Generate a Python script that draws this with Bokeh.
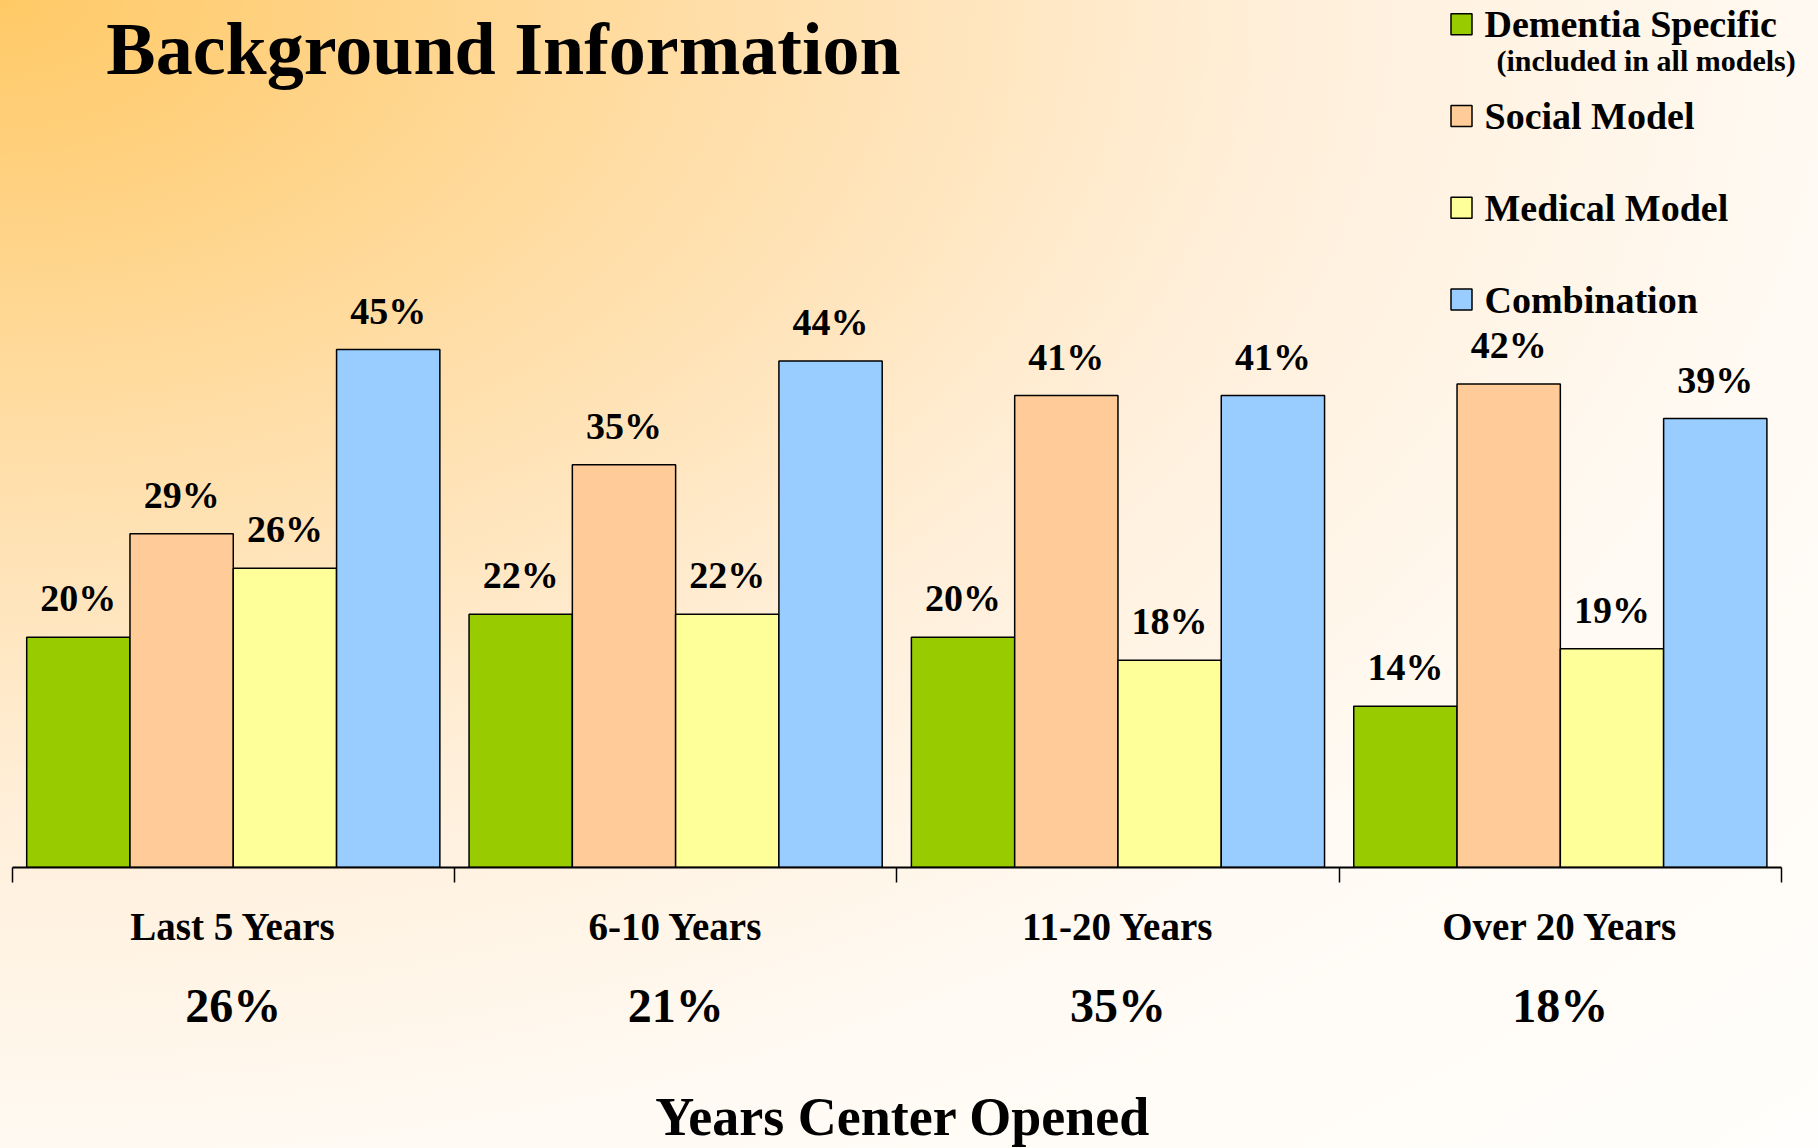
from bokeh.plotting import figure
from bokeh.models import ColumnDataSource, LinearAxis, FixedTicker, Range1d
from bokeh.core.properties import value
from bokeh.embed import file_html
from bokeh.resources import INLINE

# ---------------- data ----------------
categories = ["Last 5 Years", "6-10 Years", "11-20 Years", "Over 20 Years"]
category_share = ["26%", "21%", "35%", "18%"]
series_names = ["Dementia Specific", "Social Model", "Medical Model", "Combination"]
dementia_specific = [20, 22, 20, 14]
social_model = [29, 35, 41, 42]
medical_model = [26, 22, 18, 19]
combination = [45, 44, 41, 39]
legend_note = "(included in all models)"
title_text = "Background Information"
x_title = "Years  Center Opened"

colors = ["#99CC00", "#FFCC99", "#FFFF99", "#99CCFF"]

# ---------------- layout ----------------
FONT = "Liberation Serif"
W, H = 1818, 1148
FRAME_H = 867
BOTTOM = H - FRAME_H
PX_PER_CAT = 442.35
X0_PX = 11.6
PX_PER_PCT = 11.51
BASE_SHIFT = 0.33  # fraction of font size to lift alphabetic baseline

x_start = -X0_PX / PX_PER_CAT
x_end = x_start + W / PX_PER_CAT
y_end = FRAME_H / PX_PER_PCT


def dx(px):
    return x_start + px / PX_PER_CAT


def dy(px):
    return (FRAME_H - px) / PX_PER_PCT


def lift(size):
    return -round(BASE_SHIFT * size)


p = figure(frame_width=W, frame_height=FRAME_H,
           x_range=Range1d(x_start, x_end), y_range=Range1d(0, y_end),
           x_axis_type=None, y_axis_type=None,
           toolbar_location=None, output_backend="svg",
           min_border_left=0, min_border_right=0, min_border_top=0,
           min_border_bottom=BOTTOM,
           border_fill_color=None, background_fill_color=None,
           outline_line_color=None)
p.styles = {"background": "radial-gradient(ellipse farthest-corner at 0% 0%, "
                          "#FFC966 0%, #FFDEA8 28%, #FFEFDA 50%, #FFFAF3 72%, #FFFEFC 100%)"}

# ---------------- bars ----------------
bar_w = 0.2335
LABEL_SIZE = 38
series = [dementia_specific, social_model, medical_model, combination]
for k, (name, vals, col) in enumerate(zip(series_names, series, colors)):
    xs = [i + 0.5 + (k - 1.5) * bar_w for i in range(len(categories))]
    src = ColumnDataSource(dict(x=xs, top=vals, label=[f"{v}%" for v in vals]))
    p.vbar(x="x", top="top", bottom=0, width=bar_w, source=src,
           fill_color=col, line_color="black", line_width=1.5)
    p.text(x="x", y="top", text="label", source=src,
           text_font=value(FONT), text_font_style="bold",
           text_font_size=f"{LABEL_SIZE}px",
           text_align="center", text_baseline="alphabetic",
           y_offset=-26 + lift(LABEL_SIZE), text_color="black")

# ---------------- title ----------------
TITLE_SIZE = 74
p.text(x=[dx(503)], y=[dy(72)], text=[title_text],
       text_font=value(FONT), text_font_style="bold",
       text_font_size=f"{TITLE_SIZE}px", y_offset=lift(TITLE_SIZE),
       text_align="center", text_baseline="alphabetic", text_color="black")

# ---------------- legend ----------------
LEG_TOP = 23.7
LEG_PITCH = 91.8
LEG_SIZE = 38
NOTE_SIZE = 30
leg_y = [dy(LEG_TOP + k * LEG_PITCH) for k in range(len(series_names))]
p.scatter(x=[dx(1461)] * len(series_names), y=leg_y, marker="square", size=21,
          fill_color=colors, line_color="black", line_width=1.5)
p.text(x=[dx(1484)] * len(series_names), y=leg_y, text=series_names,
       text_font=value(FONT), text_font_style="bold", text_font_size=f"{LEG_SIZE}px",
       text_align="left", text_baseline="alphabetic",
       y_offset=13 + lift(LEG_SIZE), text_color="black")
p.text(x=[dx(1496)], y=[dy(70)], text=[legend_note],
       text_font=value(FONT), text_font_style="bold", text_font_size=f"{NOTE_SIZE}px",
       text_align="left", text_baseline="alphabetic", y_offset=lift(NOTE_SIZE),
       text_color="black")

# ---------------- axes ----------------
centers = [i + 0.5 for i in range(len(categories))]
bounds_ticks = list(range(len(categories) + 1))

axis_a = LinearAxis(
    ticker=FixedTicker(ticks=centers, minor_ticks=bounds_ticks),
    bounds=(0, len(categories)),
    axis_line_color="black", axis_line_width=2,
    major_tick_in=0, major_tick_out=15, major_tick_line_color=None,
    minor_tick_in=0, minor_tick_out=15, minor_tick_line_color="black",
    minor_tick_line_width=1.5,
    major_label_overrides={c: lab for c, lab in zip(centers, categories)},
    major_label_text_font=FONT, major_label_text_font_style="bold",
    major_label_text_font_size="39px", major_label_text_color="black",
    major_label_standoff=22)
p.add_layout(axis_a, "below")

axis_b = LinearAxis(
    ticker=FixedTicker(ticks=centers, minor_ticks=[]),
    bounds=(0, len(categories)),
    axis_line_color=None,
    major_tick_in=0, major_tick_out=0, major_tick_line_color=None,
    minor_tick_in=0, minor_tick_out=0, minor_tick_line_color=None,
    major_label_overrides={c: lab for c, lab in zip(centers, category_share)},
    major_label_text_font=FONT, major_label_text_font_style="bold",
    major_label_text_font_size="48px", major_label_text_color="black",
    major_label_standoff=28,
    axis_label=x_title, axis_label_text_font=FONT,
    axis_label_text_font_style="bold", axis_label_text_font_size="54px",
    axis_label_text_color="black", axis_label_standoff=52)
p.add_layout(axis_b, "below")

open("out.html", "w").write(file_html(p, INLINE))
